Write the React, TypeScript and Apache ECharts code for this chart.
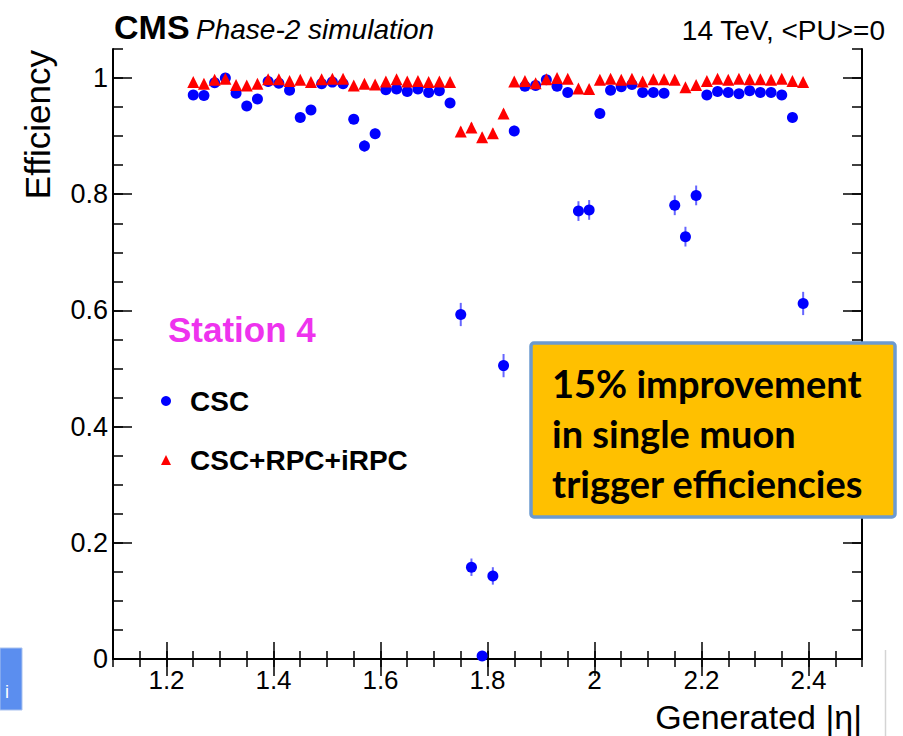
import React, { useEffect, useRef } from "react";
import * as echarts from "echarts";

const etaBins = [
  1.25, 1.27, 1.29, 1.31, 1.33, 1.35, 1.37, 1.39, 1.41, 1.43, 1.45, 1.47, 1.49, 1.51, 1.53,
  1.55, 1.57, 1.59, 1.61, 1.63, 1.65, 1.67, 1.69, 1.71, 1.73, 1.75, 1.77, 1.79, 1.81, 1.83,
  1.85, 1.87, 1.89, 1.91, 1.93, 1.95, 1.97, 1.99, 2.01, 2.03, 2.05, 2.07, 2.09, 2.11, 2.13,
  2.15, 2.17, 2.19, 2.21, 2.23, 2.25, 2.27, 2.29, 2.31, 2.33, 2.35, 2.37, 2.39,
];

const effCSC = [
  0.971, 0.970, 0.992, 1.0, 0.974, 0.952, 0.964, 0.994, 0.991, 0.979, 0.932, 0.945, 0.990, 0.993, 0.990,
  0.929, 0.883, 0.904, 0.980, 0.981, 0.977, 0.981, 0.975, 0.978, 0.957, 0.593, 0.158, 0.005, 0.143, 0.505,
  0.909, 0.986, 0.987, 0.997, 0.986, 0.975, 0.771, 0.773, 0.939, 0.979, 0.985, 0.989, 0.975, 0.975, 0.974,
  0.781, 0.727, 0.798, 0.971, 0.977, 0.975, 0.973, 0.978, 0.975, 0.975, 0.971, 0.932, 0.612,
];

const errCSC = [
  0.005, 0.005, 0.004, 0.002, 0.005, 0.006, 0.006, 0.004, 0.004, 0.005, 0.007, 0.007, 0.004, 0.004, 0.004,
  0.008, 0.01, 0.009, 0.005, 0.005, 0.005, 0.005, 0.005, 0.005, 0.007, 0.02, 0.015, 0.005, 0.015, 0.02,
  0.009, 0.004, 0.004, 0.003, 0.004, 0.005, 0.017, 0.017, 0.008, 0.005, 0.004, 0.004, 0.005, 0.005, 0.005,
  0.017, 0.017, 0.017, 0.005, 0.005, 0.005, 0.005, 0.005, 0.005, 0.005, 0.005, 0.008, 0.02,
];

const effAll = [
  0.993, 0.990, 0.997, 0.999, 0.988, 0.987, 0.990, 0.998, 0.998, 0.995, 0.997, 0.993, 0.998, 0.999, 0.999,
  0.987, 0.990, 0.989, 0.994, 0.998, 0.994, 0.995, 0.993, 0.994, 0.993, 0.908, 0.915, 0.898, 0.905, 0.939,
  0.994, 0.995, 0.991, 0.998, 1.0, 0.999, 0.982, 0.981, 0.997, 0.999, 0.997, 0.999, 0.994, 0.998, 0.998,
  0.997, 0.984, 0.988, 0.995, 0.999, 0.997, 0.999, 0.998, 0.998, 0.997, 0.999, 0.995, 0.993,
];

const errAll = [
  0.003, 0.003, 0.002, 0.001, 0.003, 0.003, 0.003, 0.002, 0.002, 0.002, 0.002, 0.003, 0.002, 0.001, 0.001,
  0.003, 0.003, 0.003, 0.002, 0.002, 0.002, 0.002, 0.003, 0.002, 0.003, 0.008, 0.008, 0.008, 0.008, 0.007,
  0.002, 0.002, 0.003, 0.002, 0.001, 0.001, 0.004, 0.004, 0.002, 0.001, 0.002, 0.001, 0.002, 0.002, 0.002,
  0.002, 0.004, 0.003, 0.002, 0.001, 0.002, 0.001, 0.002, 0.002, 0.002, 0.001, 0.002, 0.003,
];

const xMajorTicks = [1.2, 1.4, 1.6, 1.8, 2.0, 2.2, 2.4];
const xTickLabels = ["1.2", "1.4", "1.6", "1.8", "2", "2.2", "2.4"];
const yMajorTicks = [0, 0.2, 0.4, 0.6, 0.8, 1.0];
const yTickLabels = ["0", "0.2", "0.4", "0.6", "0.8", "1"];

const seriesNames = ["CSC", "CSC+RPC+iRPC"];
const boxLines = ["15% improvement", "in single muon", "trigger efficiencies"];

const FONT = "'Liberation Sans', Arial, Helvetica, sans-serif";
const X_MIN = 1.1;
const X_MAX = 2.5;
const Y_MIN = 0;
const Y_MAX = 1.05;

function fmtTick(v: number, ticks: number[], labels: string[]) {
  const i = ticks.findIndex((t) => Math.abs(t - v) < 1e-6);
  return i >= 0 ? labels[i] : "";
}

export default function App() {
  const ref = useRef<HTMLDivElement>(null);

  useEffect(() => {
    document.body.style.margin = "0";
    if (!ref.current) return;
    const chart = echarts.init(ref.current, undefined, { renderer: "svg" });

    const line = { color: "#000", width: 2 };
    const tickStyle = { color: "#000", width: 1.5 };

    const xAxisBase = {
      type: "value" as const,
      min: X_MIN,
      max: X_MAX,
      splitLine: { show: false },
    };
    const yAxisBase = {
      type: "value" as const,
      min: Y_MIN,
      max: Y_MAX,
      splitLine: { show: false },
    };

    const errData = (eff: number[], err: number[]) =>
      etaBins.map((x, i) => [x, eff[i] - err[i], eff[i] + err[i]]);

    const errSeries = (name: string, eff: number[], err: number[], color: string) => ({
      type: "custom" as const,
      name,
      xAxisIndex: 0,
      yAxisIndex: 0,
      encode: { x: 0, y: [1, 2] },
      data: errData(eff, err),
      silent: true,
      renderItem: (_params: any, api: any) => {
        const x = api.value(0);
        const p1 = api.coord([x, api.value(1)]);
        const p2 = api.coord([x, api.value(2)]);
        return {
          type: "line",
          shape: { x1: p1[0], y1: p1[1], x2: p2[0], y2: p2[1] },
          style: { stroke: color, lineWidth: 2, opacity: 0.75 },
        };
      },
    });

    const option: any = {
      animation: false,
      backgroundColor: "#fff",
      grid: { left: 113, right: 41, top: 49, bottom: 77, containLabel: false },
      legend: {
        orient: "vertical",
        left: 156,
        top: 380,
        itemGap: 27,
        itemWidth: 10,
        itemHeight: 10,
        selectedMode: false,
        data: [
          { name: seriesNames[0], icon: "circle", itemStyle: { opacity: 1 } },
          { name: seriesNames[1], icon: "triangle", itemStyle: { opacity: 1 } },
        ],
        textStyle: {
          fontFamily: FONT,
          fontWeight: "bold",
          fontSize: 28,
          color: "#000",
          lineHeight: 32,
          padding: [0, 0, 0, 14],
        },
      },
      xAxis: [
        {
          ...xAxisBase,
          position: "bottom",
          axisLine: { show: true, lineStyle: line },
          axisTick: { show: true, inside: true, length: 17, customValues: xMajorTicks, lineStyle: tickStyle },
          axisLabel: {
            show: true,
            customValues: xMajorTicks,
            formatter: (v: number) => fmtTick(v, xMajorTicks, xTickLabels),
            fontFamily: FONT,
            fontSize: 26,
            color: "#000",
            margin: 8,
          },
        },
        {
          ...xAxisBase,
          position: "bottom",
          interval: 0.05,
          axisLine: { show: false },
          axisTick: { show: true, inside: true, length: 8, lineStyle: tickStyle },
          axisLabel: { show: false },
        },
        {
          ...xAxisBase,
          position: "top",
          axisLine: { show: true, lineStyle: line },
          axisTick: { show: true, inside: true, length: 17, customValues: xMajorTicks, lineStyle: tickStyle },
          axisLabel: { show: false },
        },
        {
          ...xAxisBase,
          position: "top",
          interval: 0.05,
          axisLine: { show: false },
          axisTick: { show: true, inside: true, length: 8, lineStyle: tickStyle },
          axisLabel: { show: false },
        },
      ],
      yAxis: [
        {
          ...yAxisBase,
          position: "left",
          axisLine: { show: true, lineStyle: line },
          axisTick: { show: true, inside: true, length: 19, customValues: yMajorTicks, lineStyle: tickStyle },
          axisLabel: {
            show: true,
            customValues: yMajorTicks,
            formatter: (v: number) => fmtTick(v, yMajorTicks, yTickLabels),
            fontFamily: FONT,
            fontSize: 27,
            color: "#000",
            margin: 5,
          },
        },
        {
          ...yAxisBase,
          position: "left",
          interval: 0.05,
          axisLine: { show: false },
          axisTick: { show: true, inside: true, length: 10, lineStyle: tickStyle },
          axisLabel: { show: false },
        },
        {
          ...yAxisBase,
          position: "right",
          axisLine: { show: true, lineStyle: line },
          axisTick: { show: true, inside: true, length: 19, customValues: yMajorTicks, lineStyle: tickStyle },
          axisLabel: { show: false },
        },
        {
          ...yAxisBase,
          position: "right",
          interval: 0.05,
          axisLine: { show: false },
          axisTick: { show: true, inside: true, length: 10, lineStyle: tickStyle },
          axisLabel: { show: false },
        },
      ],
      series: [
        errSeries("errCSC", effCSC, errCSC, "#3333ff"),
        {
          type: "scatter",
          name: seriesNames[0],
          xAxisIndex: 0,
          yAxisIndex: 0,
          symbol: "circle",
          symbolSize: 11,
          itemStyle: { color: "#0000ff", opacity: 1 },
          data: etaBins.map((x, i) => [x, effCSC[i]]),
          z: 3,
        },
        errSeries("errAll", effAll, errAll, "#ff3333"),
        {
          type: "scatter",
          name: seriesNames[1],
          xAxisIndex: 0,
          yAxisIndex: 0,
          symbol: "triangle",
          symbolSize: 12,
          itemStyle: { color: "#ff0000", opacity: 1 },
          data: etaBins.map((x, i) => [x, effAll[i]]),
          z: 4,
        },
      ],
      graphic: [
        {
          type: "text",
          x: 114,
          y: 27,
          style: { text: "CMS", font: `bold 34px ${FONT}`, fill: "#000", verticalAlign: "middle" },
        },
        {
          type: "text",
          x: 196,
          y: 29,
          style: { text: "Phase-2 simulation", font: `italic 28px ${FONT}`, fill: "#000", verticalAlign: "middle" },
        },
        {
          type: "text",
          x: 885,
          y: 30,
          style: { text: "14 TeV, <PU>=0", font: `28px ${FONT}`, fill: "#000", align: "right", verticalAlign: "middle" },
        },
        {
          type: "text",
          x: 37,
          y: 50,
          rotation: Math.PI / 2,
          style: {
            text: "Efficiency",
            font: `35px ${FONT}`,
            fill: "#000",
            align: "right",
            verticalAlign: "middle",
          },
        },
        {
          type: "text",
          x: 862,
          y: 717,
          style: {
            text: "Generated |η|",
            font: `34px ${FONT}`,
            fill: "#000",
            align: "right",
            verticalAlign: "middle",
          },
        },
        {
          type: "text",
          x: 168,
          y: 329,
          style: {
            text: "Station 4",
            font: `bold 35px ${FONT}`,
            fill: "#ee33ee",
            align: "left",
            verticalAlign: "middle",
          },
        },
        {
          type: "rect",
          shape: { x: 531, y: 343, width: 364, height: 174, r: 3 },
          style: { fill: "#FFC000", stroke: "#6C9AD0", lineWidth: 3.5 },
          z: 10,
        },
        ...boxLines.map((t, i) => ({
          type: "text",
          x: 552,
          y: 383 + i * 50,
          z: 11,
          style: {
            text: t,
            font: `bold 38px Lato, 'Open Sans', sans-serif`,
            fill: "#000",
            align: "left",
            verticalAlign: "middle",
          },
        })),
        {
          type: "rect",
          shape: { x: 0, y: 648, width: 22, height: 62 },
          style: { fill: "#5B8EEF", stroke: "#a9c2ef", lineWidth: 1 },
        },
        {
          type: "text",
          x: 5,
          y: 692,
          style: { text: "i", font: `18px ${FONT}`, fill: "#fff", verticalAlign: "middle" },
        },
        {
          type: "line",
          shape: { x1: 885.5, y1: 650, x2: 885.5, y2: 736 },
          style: { stroke: "#d4d4d4", lineWidth: 1.5 },
        },
      ],
    };

    chart.setOption(option);
    return () => chart.dispose();
  }, []);

  return <div ref={ref} style={{ width: 903, height: 736 }} />;
}
